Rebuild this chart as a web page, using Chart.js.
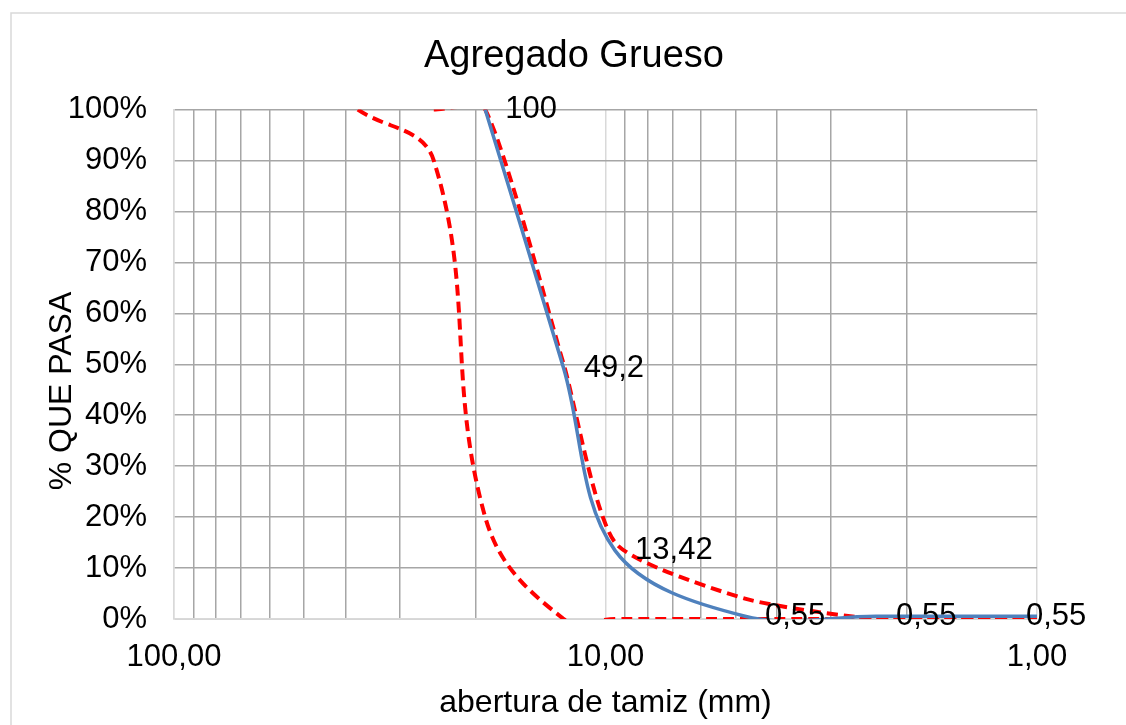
<!DOCTYPE html>
<html>
<head>
<meta charset="utf-8">
<script src="https://cdn.jsdelivr.net/npm/chart.js@4.4.0/dist/chart.umd.min.js"></script>
<style>
  html, body { margin: 0; padding: 0; background: #fff; }
  #wrap { width: 1126px; height: 725px; position: relative; }
</style>
</head>
<body>
<div id="wrap"><canvas id="grafico"></canvas></div>
<script>
// abertura de tamiz (mm) y % que pasa
const tamices = [37.5, 25, 19, 12.5, 9.5, 4.75, 2.36, 1.18, 0.6];
const pasa = [null, null, 100, 49.2, 13.42, 0.55, 0.55, 0.55, 0.55];
const limiteSup = [null, 100, 100, 50, 15, 4, 0, 0, 0];
const limiteInf = [100, 90, 20, 0, 0, 0, 0, 0, 0];
const xTicks = [1, 2, 3, 4, 5, 6, 7, 8, 9, 10, 20, 30, 40, 50, 60, 70, 80, 90, 100];
const xLabels = [1, 10, 100];
const yTicks = [0, 10, 20, 30, 40, 50, 60, 70, 80, 90, 100];

const FONT = "'Liberation Sans', Arial, sans-serif";
const toPts = arr => tamices.map((t, i) => ({ x: t, y: arr[i] }));
const coma = v => String(v).replace('.', ',');

// marco exterior del grafico
const marco = {
  id: 'marco',
  beforeDraw(chart) {
    const c = chart.ctx;
    c.save();
    c.fillStyle = '#fff';
    c.fillRect(0, 0, chart.width, chart.height);
    c.strokeStyle = '#d9d9d9';
    c.lineWidth = 1.5;
    c.strokeRect(11, 13, 1300, 900);
    c.restore();
  }
};

// etiquetas de datos + titulo del eje Y
const etiquetas = {
  id: 'etiquetas',
  afterDatasetsDraw(chart) {
    const c = chart.ctx, area = chart.chartArea;
    const meta = chart.getDatasetMeta(0);
    c.save();
    c.font = '31px ' + FONT;
    c.fillStyle = '#000';
    c.textAlign = 'left';
    c.textBaseline = 'middle';
    meta.data.forEach((p, i) => {
      if (pasa[i] === null || p.x > area.right + 1 || p.x < area.left - 1) return;
      c.fillText(coma(pasa[i]), p.x + 20, p.y);
    });
    c.font = '32px ' + FONT;
    c.translate(62, 391);
    c.rotate(-Math.PI / 2);
    c.textAlign = 'center';
    c.fillText('% QUE PASA', 0, 0);
    c.restore();
  }
};

new Chart(document.getElementById('grafico'), {
  type: 'line',
  data: {
    datasets: [
      { label: 'Muestra', data: toPts(pasa), borderColor: '#4f81bd', borderWidth: 3.5,
        pointRadius: 0, tension: 0.35, fill: false },
      { label: 'Límite superior', data: toPts(limiteSup), borderColor: '#ff0000', borderWidth: 4,
        borderDash: [11, 6], pointRadius: 0, tension: 0.2, fill: false, clip: 0 },
      { label: 'Límite inferior', data: toPts(limiteInf), borderColor: '#ff0000', borderWidth: 4,
        borderDash: [11, 6], pointRadius: 0, tension: 0.4, fill: false, clip: 0 },
    ],
  },
  options: {
    responsive: true,
    maintainAspectRatio: false,
    animation: false,
    devicePixelRatio: 1,
    elements: { line: { capBezierPoints: false } },
    layout: { padding: { left: 22, right: 0, top: 0, bottom: 0 } },
    plugins: {
      legend: { display: false },
      tooltip: { enabled: false },
      title: {
        display: true, text: 'Agregado Grueso', color: '#000',
        font: { family: FONT, size: 38, weight: 'normal' },
        padding: { top: 34, bottom: 30 },
      },
    },
    scales: {
      x: {
        type: 'logarithmic', reverse: true, min: 1, max: 100,
        afterBuildTicks: s => { s.ticks = xTicks.map(v => ({ value: v })); },
        afterFit: s => { s.height = 106; },
        ticks: {
          autoSkip: false, maxRotation: 0, padding: 20, color: '#000',
          font: { family: FONT, size: 31 },
          callback: v => xLabels.includes(v) ? v.toFixed(2).replace('.', ',') : '',
        },
        grid: {
          drawTicks: false, lineWidth: 1.5,
          color: ctx => (ctx.tick && xLabels.includes(ctx.tick.value)) ? '#d9d9d9' : '#a6a6a6',
        },
        border: { color: '#d9d9d9', width: 1.5 },
        title: {
          display: true, text: 'abertura de tamiz (mm)', color: '#000',
          font: { family: FONT, size: 32 }, padding: { top: 0, bottom: 3 },
        },
      },
      y: {
        type: 'linear', min: 0, max: 100,
        afterBuildTicks: s => { s.ticks = yTicks.map(v => ({ value: v })); },
        afterFit: s => { s.width = 152; },
        ticks: {
          padding: 27, color: '#000',
          font: { family: FONT, size: 31 },
          callback: v => v + '%',
        },
        grid: { drawTicks: false, lineWidth: 1.5, color: '#a6a6a6' },
        border: { color: '#d9d9d9', width: 1.5 },
      },
      y2: {
        type: 'linear', position: 'right', min: 0, max: 100,
        afterFit: s => { s.width = 89; },
        ticks: { display: false },
        grid: { display: false, drawTicks: false },
        border: { display: false },
      },
    },
  },
  plugins: [marco, etiquetas],
});
</script>
</body>
</html>
